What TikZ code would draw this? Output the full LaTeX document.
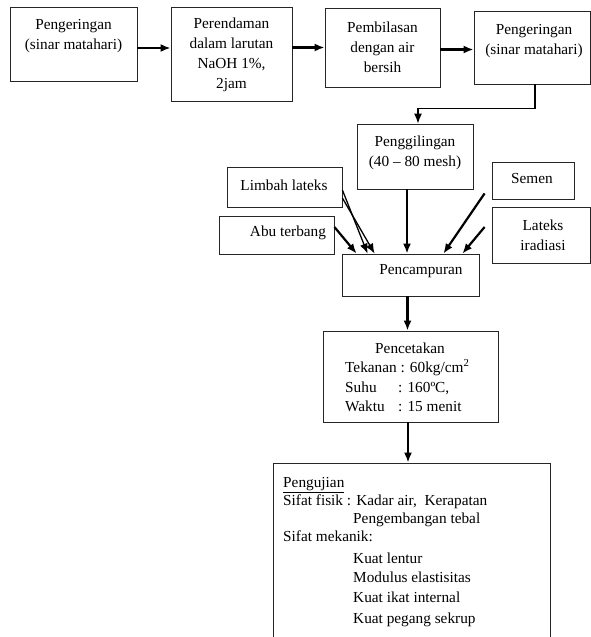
\documentclass[tikz,border=0pt]{standalone}
\usepackage{fontspec}
\setmainfont{Liberation Serif}
\usetikzlibrary{arrows.meta}
\tikzset{box/.style={draw=black!85,line width=0.8pt,inner sep=0pt},
         txt/.style={align=center,inner sep=0pt,font=\fontsize{15.3}{20}\selectfont},
         ln/.style={anchor=base west,inner sep=0pt,font=\fontsize{15.3}{20}\selectfont},
         flow/.style={-{Latex[length=10pt,width=8pt]},line width=2.2pt},
         thinflow/.style={-{Latex[length=10pt,width=8pt]},line width=1.3pt}}

\begin{document}
\begin{tikzpicture}[x=1pt,y=-1pt]
\useasboundingbox (0,0) rectangle (591,637);
\clip (0,0) rectangle (591,637);

\node[box,minimum width=127pt,minimum height=74pt] (dry1) at (73.5,44) {};
\node[box,minimum width=121pt,minimum height=94pt] (soak) at (231.5,54) {};
\node[box,minimum width=115pt,minimum height=79pt] (rinse) at (382.5,47.5) {};
\node[box,minimum width=116pt,minimum height=73pt] (dry2) at (532,47.5) {};
\node[box,minimum width=116pt,minimum height=65pt] (grind) at (415,156.5) {};
\node[box,minimum width=115pt,minimum height=40pt] (waste) at (284.5,187) {};
\node[box,minimum width=115pt,minimum height=38pt] (ash) at (276.5,235) {};
\node[box,minimum width=137pt,minimum height=42pt] (mix) at (410.5,275) {};
\node[box,minimum width=82pt,minimum height=37pt] (cement) at (533,180.5) {};
\node[box,minimum width=98pt,minimum height=56pt] (latex) at (541,235) {};
\node[box,minimum width=175pt,minimum height=91pt] (press) at (410.5,376.5) {};
\node[box,minimum width=277pt,minimum height=190pt] (test) at (411.5,558) {};

\node[txt] at (73.5,36) {Pengeringan\\(sinar matahari)};
\node[txt] at (231.5,55) {Perendaman\\dalam larutan\\NaOH 1\%,\\2jam};
\node[txt] at (382.5,47) {Pembilasan\\dengan air\\bersih};
\node[txt] at (534,41) {Pengeringan\\(sinar matahari)};
\node[txt] at (415,153) {Penggilingan\\(40 -- 80 mesh)};
\node[txt] at (284,185) {Limbah lateks};
\node[txt] at (288,233) {Abu terbang};
\node[txt] at (421,271) {Pencampuran};
\node[txt] at (532,179) {Semen};
\node[txt] at (543,235) {Lateks\\iradiasi};

\node[ln] at (375,353) {Pencetakan};
\node[ln] at (345,372) {Tekanan : 60kg/cm\textsuperscript{2}};
\node[ln] at (345,392) {Suhu};
\node[ln] at (398,392) {: 160ºC,};
\node[ln] at (345,411) {Waktu};
\node[ln] at (398,411) {: 15 menit};

\node[ln] at (283,487) {\underline{Pengujian}};
\node[ln] at (283,505) {Sifat fisik : Kadar air,\ \ Kerapatan};
\node[ln] at (353,523) {Pengembangan tebal};
\node[ln] at (283,541) {Sifat mekanik:};
\node[ln] at (353,563) {Kuat lentur};
\node[ln] at (353,582) {Modulus elastisitas};
\node[ln] at (353,602) {Kuat ikat internal};
\node[ln] at (353,623) {Kuat pegang sekrup};

\draw[flow] ([yshift=-4pt]dry1.east) -- ([yshift=-4pt]dry1.east -| soak.west);
\draw[flow] (soak.east |- rinse.west) -- (rinse.west);
\draw[flow] ([yshift=-2pt]rinse.east) -- ([yshift=-2pt]dry2.west);
\draw[thinflow] ([xshift=3pt]dry2.south) -- ++(0,24) -| ([xshift=3pt]grind.north);

\draw[flow] ([xshift=-8pt]grind.south) -- ([xshift=-8pt]grind.south |- mix.north);
\draw[flow] ([yshift=8pt]ash.east) -- ([xshift=15pt]mix.north west);
\draw[thinflow] ([yshift=-3pt]waste.east) -- ([xshift=26pt]mix.north west);
\draw[thinflow] ([yshift=-11pt]waste.east) -- ([xshift=33pt]mix.north west);
\draw[flow] ([xshift=-7pt,yshift=6pt]cement.south west) -- ([xshift=-36pt]mix.north east);
\draw[flow] ([xshift=-7pt,yshift=8pt]latex.west) -- ([xshift=-17pt]mix.north east);

\draw[flow] ([xshift=-3pt]mix.south) -- ([xshift=-3pt]mix.south |- press.north);
\draw[flow] ([xshift=-2.5pt]press.south) -- ([xshift=-2.5pt]press.south |- test.north);
\end{tikzpicture}
\end{document}
